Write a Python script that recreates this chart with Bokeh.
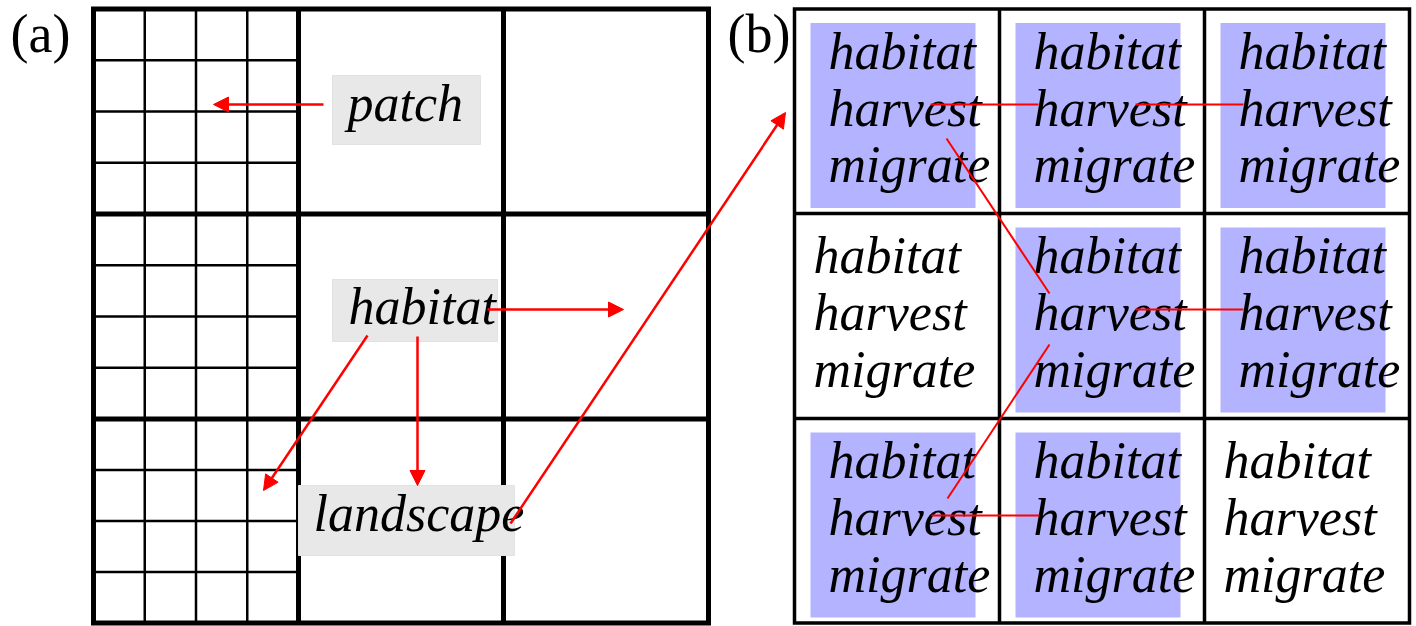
from bokeh.plotting import figure
from bokeh.models import Range1d, Arrow, NormalHead, ColumnDataSource
from bokeh.core.properties import value
from bokeh.embed import file_html
from bokeh.resources import INLINE

# ---------------- data (diagram geometry, px) ----------------
# panel (a): 3x3 landscape of habitats; the left column is split into 4x4 patches
a_major_x = [93, 298, 503, 708]
a_major_y = [8.5, 213.5, 418.5, 622.5]
a_patch_splits = 4

a_labels = ["patch", "habitat", "landscape"]
a_label_x = [347, 348, 313]
a_label_y = [122, 325, 532]
a_box_left = [332, 332, 298]
a_box_right = [480, 497, 514]
a_box_top = [75, 279, 485]
a_box_bottom = [144, 341, 555]

a_arrow_x0 = [323, 487, 417, 367, 510]
a_arrow_y0 = [104, 309, 336, 335, 523]
a_arrow_x1 = [213, 623, 417, 263, 785]
a_arrow_y1 = [104, 309, 485, 490, 112]

# panel (b): 3x3 habitats, each with three activities
b_major_x = [794, 999, 1204, 1409]
b_major_y = [8.5, 213, 418, 622.5]
b_words = ["habitat", "harvest", "migrate"]
b_word_offsets = [61.5, 118.5, 175]
# 1 = cell highlighted (blue), 0 = plain
b_active = [[1, 1, 1],
            [0, 1, 1],
            [1, 1, 0]]

b_link_x0 = [930, 1135, 946, 1135, 1049, 931]
b_link_y0 = [104, 104, 138, 309, 344, 515]
b_link_x1 = [1038, 1243, 1049, 1243, 947, 1039]
b_link_y1 = [104, 104, 293, 309, 498, 515]

panel_labels = ["(a)", "(b)"]
panel_label_x = [10, 727]
panel_label_y = [53, 53]

# ---------------- figure ----------------
W, H = 1416, 626
p = figure(width=W, height=H, x_range=Range1d(0, W), y_range=Range1d(H, 0),
           output_backend="svg", toolbar_location=None, min_border=0)
p.axis.visible = False
p.grid.visible = False
p.outline_line_color = None
p.background_fill_color = "white"
p.border_fill_color = "white"

RED = "#ff0000"
FONT = value("Liberation Serif")
WORD_PX = 52
LABEL_PX = 54
FIX = 0.37  # baseline correction (em) for the svg text placement


def base(ys, px):
    return [y - FIX * px for y in ys]


# ---- panel (a) grid ----
x0, x1 = a_major_x[0], a_major_x[1]
mx0, my0, mx1, my1 = [], [], [], []
for k in range(1, a_patch_splits):
    xx = x0 + (x1 - x0) * k / a_patch_splits
    mx0.append(xx); mx1.append(xx); my0.append(a_major_y[0]); my1.append(a_major_y[-1])
for r in range(len(a_major_y) - 1):
    ya, yb = a_major_y[r], a_major_y[r + 1]
    for k in range(1, a_patch_splits):
        yy = ya + (yb - ya) * k / a_patch_splits
        mx0.append(x0); mx1.append(x1); my0.append(yy); my1.append(yy)
p.segment(mx0, my0, mx1, my1, line_color="black", line_width=2.5)

sx0, sy0, sx1, sy1 = [], [], [], []
for xx in a_major_x[1:-1]:
    sx0.append(xx); sx1.append(xx); sy0.append(a_major_y[0]); sy1.append(a_major_y[-1])
for yy in a_major_y[1:-1]:
    sx0.append(a_major_x[0]); sx1.append(a_major_x[-1]); sy0.append(yy); sy1.append(yy)
p.segment(sx0, sy0, sx1, sy1, line_color="black", line_width=5)
p.quad(left=[a_major_x[0]], right=[a_major_x[-1]], top=[a_major_y[0]], bottom=[a_major_y[-1]],
       fill_color=None, line_color="black", line_width=5, line_join="miter")

p.quad(left=a_box_left, right=a_box_right, top=a_box_top, bottom=a_box_bottom,
       fill_color="#e8e8e8", line_color="#e2e2e2", line_width=1)
p.text(a_label_x, base(a_label_y, WORD_PX), text=a_labels, text_font=FONT, text_font_style="italic",
       text_font_size=f"{WORD_PX}px", text_baseline="alphabetic", text_align="left", text_color="black")

arrow_src = ColumnDataSource(dict(x0=a_arrow_x0, y0=a_arrow_y0, x1=a_arrow_x1, y1=a_arrow_y1))
p.add_layout(Arrow(end=NormalHead(size=15, fill_color=RED, line_color=RED, line_width=1),
                   x_start="x0", y_start="y0", x_end="x1", y_end="y1",
                   line_color=RED, line_width=2.5, source=arrow_src))

# ---- panel (b) ----
bl, br, bt, bb = [], [], [], []
tx, ty, tt = [], [], []
for r in range(3):
    for c in range(3):
        cx, cy = b_major_x[c], b_major_y[r]
        if b_active[r][c]:
            bl.append(cx + 16); br.append(cx + 181); bt.append(cy + 14); bb.append(cy + 199)
            xoff = 34
        else:
            xoff = 19
        for w, off in zip(b_words, b_word_offsets):
            tx.append(cx + xoff); ty.append(cy + off); tt.append(w)

p.quad(left=bl, right=br, top=bt, bottom=bb, fill_color="#b3b3ff", line_color=None)

bx0, by0, bx1, by1 = [], [], [], []
for xx in b_major_x[1:-1]:
    bx0.append(xx); bx1.append(xx); by0.append(b_major_y[0]); by1.append(b_major_y[-1])
for yy in b_major_y[1:-1]:
    bx0.append(b_major_x[0]); bx1.append(b_major_x[-1]); by0.append(yy); by1.append(yy)
p.segment(bx0, by0, bx1, by1, line_color="black", line_width=3.5)
p.quad(left=[b_major_x[0]], right=[b_major_x[-1]], top=[b_major_y[0]], bottom=[b_major_y[-1]],
       fill_color=None, line_color="black", line_width=3.5, line_join="miter")

p.text(tx, base(ty, WORD_PX), text=tt, text_font=FONT, text_font_style="italic",
       text_font_size=f"{WORD_PX}px", text_baseline="alphabetic", text_align="left", text_color="black")

p.segment(b_link_x0, b_link_y0, b_link_x1, b_link_y1, line_color=RED, line_width=2)

p.text(panel_label_x, base(panel_label_y, LABEL_PX), text=panel_labels, text_font=FONT,
       text_font_size=f"{LABEL_PX}px", text_baseline="alphabetic", text_align="left", text_color="black")

open("out.html", "w").write(file_html(p, INLINE))
